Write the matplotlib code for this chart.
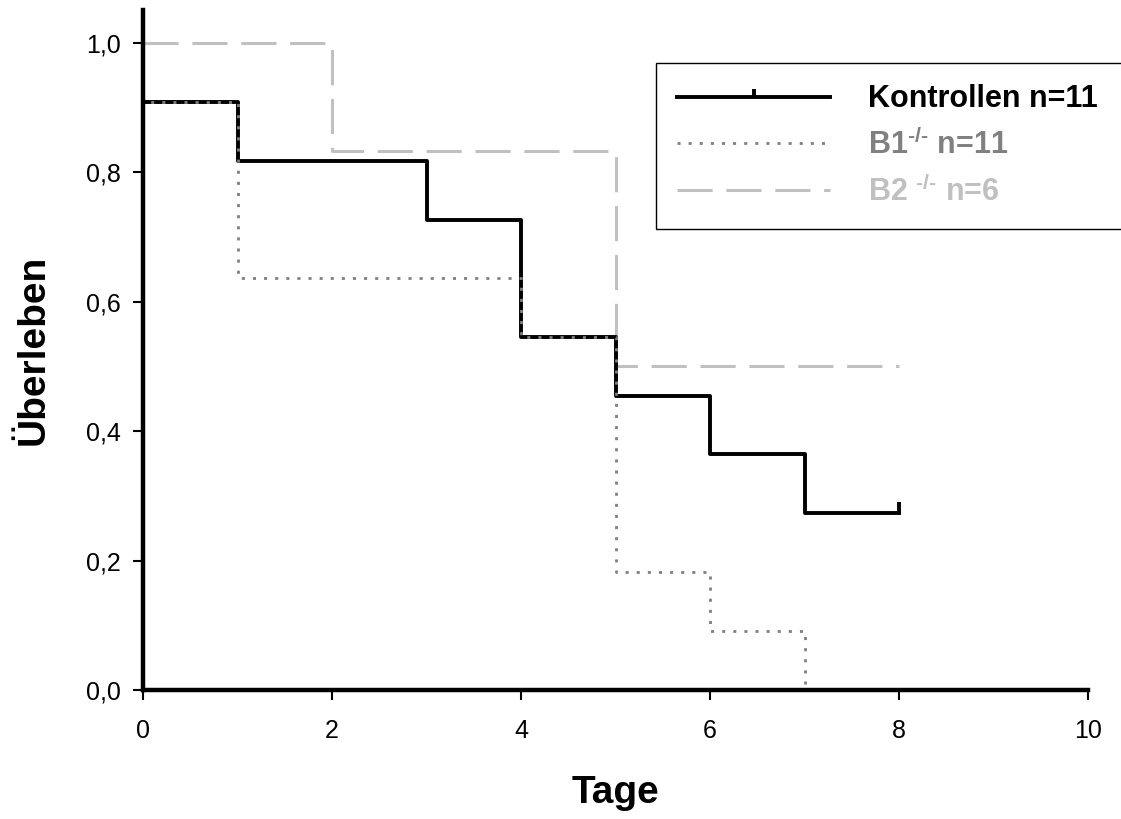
import matplotlib.pyplot as plt
from matplotlib.lines import Line2D
from matplotlib.ticker import FuncFormatter

plt.rcParams['font.family'] = ['Liberation Sans', 'DejaVu Sans']
plt.rcParams['mathtext.fontset'] = 'custom'
plt.rcParams['mathtext.rm'] = 'Liberation Sans:bold'
plt.rcParams['mathtext.default'] = 'rm'

# Kaplan-Meier steps (time, survival after the step)
ctrl_t = [0, 0, 1, 3, 4, 5, 6, 7, 8]
ctrl_s = [1.0, 0.909, 0.818, 0.727, 0.545, 0.455, 0.364, 0.273, 0.273]
b1_t = [0, 0, 1, 4, 5, 6, 7]
b1_s = [1.0, 0.909, 0.636, 0.545, 0.182, 0.091, 0.0]
b2_t = [0, 2, 5, 8]
b2_s = [1.0, 0.833, 0.5, 0.5]

labels = ['Kontrollen n=11', r'B1$^{\text{-/-}}$ n=11', r'B2 $^{\text{-/-}}$ n=6']
colors = ['#000000', '#808080', '#c0c0c0']

fig = plt.figure(figsize=(11.21, 8.19), dpi=100)
ax = fig.add_axes([0.1276, 0.1575, 0.843, 0.8305])

censor = [(0, 0), (0, 1)]
ax.step(b2_t, b2_s, where='post', color=colors[2], lw=2.2, dashes=(11.5, 4.5))
ax.step(ctrl_t, ctrl_s, where='post', color=colors[0], lw=2.8)
ax.plot([ctrl_t[-1]], [ctrl_s[-1]], marker=censor, ms=16, mew=2.8, color=colors[0])
ax.step(b1_t, b1_s, where='post', color=colors[1], lw=2.0, dashes=(1.1, 2.9))

ax.set_xlim(0, 10)
ax.set_ylim(0, 1.051)
ax.set_xticks([0, 2, 4, 6, 8, 10])
ax.set_yticks([0, 0.2, 0.4, 0.6, 0.8, 1.0])
ax.yaxis.set_major_formatter(FuncFormatter(lambda v, p: f'{v:.1f}'.replace('.', ',')))
ax.spines['top'].set_visible(False)
ax.spines['right'].set_visible(False)
ax.spines['left'].set_linewidth(3.2)
ax.spines['bottom'].set_linewidth(3.2)
ax.tick_params(direction='out', length=7, width=1.5, labelsize=18)
ax.tick_params(axis='x', pad=14)
ax.tick_params(axis='y', pad=9)

ax.set_xlabel('Tage', fontsize=28, fontweight='bold', labelpad=23)
ax.set_ylabel('Überleben', fontsize=28, fontweight='bold', labelpad=25)

handles = [
    Line2D([], [], color=colors[0], lw=2.8, marker=censor, ms=11, mew=2.8),
    Line2D([], [], color=colors[1], lw=2.0, dashes=(1.1, 2.9)),
    Line2D([], [], color=colors[2], lw=2.2, dashes=(11.5, 4.5)),
]
leg = fig.legend(handles, labels, loc='upper left',
                 bbox_to_anchor=(0.585, 0.6, 0.45, 0.323), mode='expand',
                 borderaxespad=0, fancybox=False, edgecolor='black',
                 framealpha=1, prop={'size': 22, 'weight': 'bold'},
                 handlelength=5.0, handletextpad=1.25, labelspacing=0.48,
                 borderpad=0.7, numpoints=1)
leg.get_frame().set_linewidth(1.0)
for txt, c in zip(leg.get_texts(), colors):
    txt.set_color(c)

fig.savefig('out.png', dpi=100)
